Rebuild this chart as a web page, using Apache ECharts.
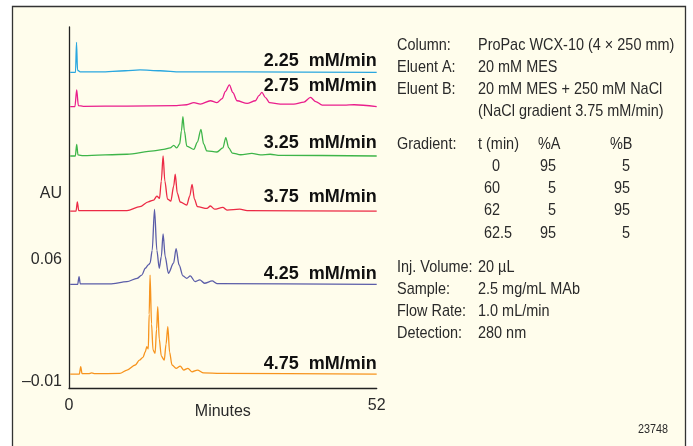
<!DOCTYPE html>
<html>
<head>
<meta charset="utf-8">
<script src="https://cdn.jsdelivr.net/npm/echarts@6/dist/echarts.min.js"></script>
<style>html,body{margin:0;padding:0;background:#fff}#c{width:693px;height:446px}</style>
</head>
<body>
<div id="c"></div>
<script>
// ---- data (time in min, signal in mAU above each trace's baseline) ----
var traceNames = ['2.25  mM/min', '2.75  mM/min', '3.25  mM/min', '3.75  mM/min', '4.25  mM/min', '4.75  mM/min'];
var baselineOffsets = [167.7, 148.0, 119.7, 88.1, 46.1, -5.4]; // mAU
var trace225 = [[0.2,0],[1.1,0],[1.27,17.2],[1.44,1.2],[1.9,0.3],[5.3,0.3],[9.5,0.9],[12.0,1.4],[15.4,0.9],[18.8,0.3],[30,0.2],[52,0]];
var trace275 = [[0.2,0],[1.0,0],[1.3,9.6],[1.58,0.6],[2.4,0.2],[9.8,0.3],[18.2,0.6],[19.9,1.1],[21.1,2.3],[22.2,1.5],[23.9,3.4],[25.0,2.3],[25.9,4.6],[26.4,8.6],[27.1,12.5],[27.7,8.0],[28.4,3.4],[30.1,1.9],[31.5,3.4],[32.1,6.3],[32.6,8.2],[33.2,5.2],[33.9,2.3],[35.7,1.5],[38.0,1.5],[39.7,2.6],[40.8,5.3],[41.7,2.9],[42.8,0.9],[46.5,0.9],[48.2,1.1],[52,0]];
var trace325 = [[0.2,0],[1.07,0],[1.3,6.7],[1.52,0.6],[2.4,0.2],[9.8,1.0],[14.3,2.9],[16.0,3.8],[17.1,4.6],[17.7,6.1],[18.2,4.6],[18.7,6.9],[19.0,14.4],[19.25,22.6],[19.5,14.4],[19.9,5.7],[21.1,3.8],[21.7,8.0],[22.3,15.3],[22.75,6.9],[23.3,2.9],[25.0,2.3],[26.0,4.6],[26.5,10.5],[27.0,4.6],[27.6,1.7],[29.0,0.7],[30.9,1.5],[32.35,0.6],[34.0,1.0],[35.7,0.4],[52,0]];
var trace375 = [[0.2,0],[1.19,0],[1.41,5.3],[1.64,0.3],[2.4,0.2],[9.8,0.3],[12.0,2.5],[13.4,5.3],[14.3,6.3],[14.85,8.6],[15.3,7.3],[15.6,17.2],[15.9,31.6],[16.2,17.2],[16.65,6.9],[17.2,5.7],[17.7,14.4],[17.95,21.2],[18.3,10.3],[18.8,5.2],[19.9,3.4],[20.4,8.6],[20.8,15.3],[21.2,6.9],[21.7,2.5],[23.3,1.5],[23.9,2.9],[24.6,1.1],[26.0,2.1],[26.7,0.6],[28.85,1.1],[30.1,0.2],[52,0]];
var trace425 = [[0.2,0],[1.47,0],[1.7,4.4],[1.9,0.3],[3.0,0.2],[6.9,0.2],[9.8,1.5],[11.5,3.4],[12.3,5.3],[12.9,9.2],[13.4,11.1],[13.7,12.1],[14.06,19.5],[14.45,43.0],[14.85,19.5],[15.25,9.2],[15.6,15.8],[15.9,28.9],[16.26,15.8],[16.8,6.3],[17.67,12.1],[18.1,20.4],[18.6,11.1],[19.25,4.8],[19.9,3.4],[20.5,4.8],[21.3,1.5],[22.1,2.5],[22.9,0.6],[24.2,1.9],[25.0,0.4],[52,0]];
var trace475 = [[0.2,0],[1.75,0],[1.98,4.2],[2.2,0.3],[3.3,0.2],[3.84,0.7],[4.4,0.2],[8.6,0.4],[9.8,2.3],[11.2,5.2],[11.9,8.0],[12.5,9.6],[12.9,12.8],[13.15,15.7],[13.4,14.4],[13.55,34.4],[13.7,56.8],[13.95,28.7],[14.2,13.8],[14.55,11.9],[14.8,25.8],[15.0,38.6],[15.25,20.1],[15.6,10.3],[16.1,8.0],[16.4,17.2],[16.7,27.2],[17.0,12.6],[17.4,5.2],[18.1,3.3],[18.8,4.6],[19.4,2.3],[20.1,3.3],[20.8,1.3],[21.7,2.3],[22.75,0.7],[25.6,0.4],[52,0]];
var traces = [trace225, trace275, trace325, trace375, trace425, trace475];
var xTickLabels = [0, 52];
var yTickValues = [-0.01, 0.06];
var yTickLabels = ['\u20130.01', '0.06'];
var yUnitLabel = 'AU';

// ---- styling ----
var colors = ['#2AA7DF', '#EA1E8C', '#3EB549', '#EC2A45', '#5B5DA8', '#F7941E'];
var labelLift = [11, 20.5, 12.5, 14, 10, 10.5];
var FONT = '"Liberation Sans", Arial, sans-serif';
var TXT = '#2a2a2a';
var SX = 0.85;

var chart = echarts.init(document.getElementById('c'), null, {renderer: 'canvas'});

var series = traces.map(function (tr, i) {
  return {
    type: 'line',
    name: traceNames[i],
    showSymbol: false,
    symbol: 'none',
    silent: true,
    smooth: 0.3,
    smoothMonotone: 'x',
    lineStyle: {color: colors[i], width: 1.3},
    data: tr.map(function (p) { return [p[0], (baselineOffsets[i] + p[1]) / 1000]; }),
    endLabel: {
      show: true,
      formatter: traceNames[i],
      distance: 0,
      align: 'right',
      verticalAlign: 'middle',
      offset: [0, -labelLift[i]],
      fontFamily: FONT,
      fontWeight: 'bold',
      fontSize: 18,
      color: '#111'
    }
  };
});

var auLevel = 0.098;

var panelLeft = 397, panelVal = 478;
var lines = [
  ['Column:', 'ProPac WCX-10 (4 \u00d7 250 mm)', 45],
  ['Eluent A:', '20 mM MES', 67],
  ['Eluent B:', '20 mM MES + 250 mM NaCl', 89],
  ['', '(NaCl gradient 3.75 mM/min)', 111],
  ['Gradient:', 't (min)', 144],
  ['Inj. Volume:', '20 \u00b5L', 267],
  ['Sample:', '2.5 mg/mL MAb', 289],
  ['Flow Rate:', '1.0 mL/min', 311],
  ['Detection:', '280 nm', 333]
];
var gradT = ['0', '60', '62', '62.5'];
var gradA = ['95', '5', '5', '95'];
var gradB = ['5', '95', '95', '5'];
var gradY = [166, 188, 210, 233];

var g = [];
g.push({type: 'rect', z: -10, shape: {x: 12.5, y: 6.5, width: 673, height: 460},
  style: {fill: '#FFFDEC', stroke: '#333', lineWidth: 1.3}});
function txt(x, y, s, align, size, sx) {
  g.push({type: 'text', x: x, y: y, z: 5, scaleX: sx || SX,
    style: {text: s, font: (size || 17) + 'px ' + FONT, fill: TXT, textAlign: align || 'left', textVerticalAlign: 'middle'}});
}
lines.forEach(function (l) {
  if (l[0]) txt(panelLeft, l[2], l[0]);
  txt(panelVal, l[2], l[1]);
});
txt(538, 144, '%A');
txt(610, 144, '%B');
gradT.forEach(function (t, i) {
  var dot = t.indexOf('.');
  var intPart = dot >= 0 ? t.slice(0, dot) : t;
  var frac = dot >= 0 ? t.slice(dot) : '';
  txt(500, gradY[i], intPart, 'right');
  if (frac) txt(500, gradY[i], frac, 'left');
  txt(556, gradY[i], gradA[i], 'right');
  txt(630, gradY[i], gradB[i], 'right');
});
txt(668, 430, '23748', 'right', 12, 0.9);

chart.setOption({
  backgroundColor: '#ffffff',
  animation: false,
  grid: {left: 69, right: 316.3, top: 27, bottom: 58, containLabel: false},
  xAxis: {
    type: 'value', min: 0, max: 52,
    name: 'Minutes', nameLocation: 'middle', nameGap: 16, nameMoveOverlap: false,
    nameTextStyle: {fontFamily: FONT, fontSize: 16, color: TXT, verticalAlign: 'top'},
    axisLine: {show: true, onZero: false, lineStyle: {color: '#222', width: 1.3}},
    axisTick: {show: false},
    splitLine: {show: false},
    axisLabel: {customValues: xTickLabels, fontFamily: FONT, fontSize: 16, color: TXT, margin: 10,
      showMinLabel: true, showMaxLabel: true}
  },
  yAxis: {
    type: 'value', min: -0.0134, max: 0.1937,
    axisLine: {show: true, onZero: false, lineStyle: {color: '#222', width: 1.3}},
    axisTick: {show: false},
    splitLine: {show: false},
    axisLabel: {
      customValues: yTickValues.concat([auLevel]),
      formatter: function (v) {
        if (Math.abs(v - auLevel) < 1e-6) return yUnitLabel;
        var k = yTickValues.indexOf(v);
        return k >= 0 ? yTickLabels[k] : '';
      },
      fontFamily: FONT, fontSize: 16, color: TXT, margin: 7,
      showMinLabel: true, showMaxLabel: true
    }
  },
  graphic: g,
  series: series
});
</script>
</body>
</html>
